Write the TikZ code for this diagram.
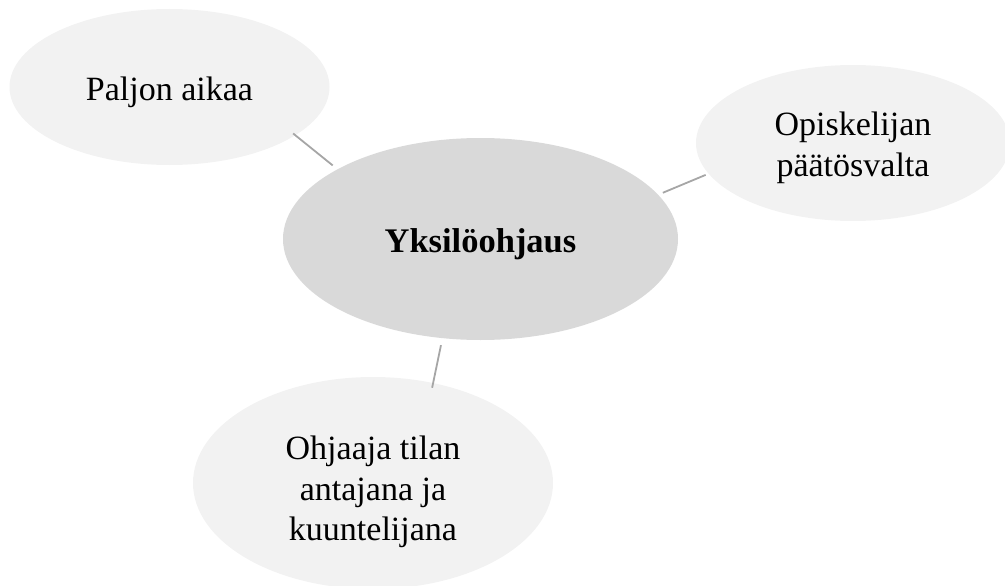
\documentclass[tikz,border=0pt]{standalone}
\usepackage{fontspec}
\setmainfont{Liberation Serif}
\usetikzlibrary{shapes.geometric}
\definecolor{satfill}{HTML}{F2F2F2}
\definecolor{cenfill}{HTML}{D9D9D9}
\definecolor{linkcol}{HTML}{A6A6A6}
\tikzset{
  bubble/.style={ellipse, fill=satfill, inner sep=0pt},
  hub/.style={ellipse, fill=cenfill, inner sep=0pt},
  label/.style={align=center, font=\fontsize{34}{40.5}\selectfont},
  hublabel/.style={align=center, font=\fontsize{34.5}{40}\selectfont\bfseries},
  link/.style={draw=linkcol, line width=1.8pt}
}
\begin{document}
\begin{tikzpicture}[x=1pt,y=-1pt]
\useasboundingbox (0,0) rectangle (1005,586);
\clip (0,0) rectangle (1005,586);
\node[hub, minimum width=395pt, minimum height=202pt] (c) at (480.5,239) {};
\node[hublabel] (ct) at (480.5,244) {Yksilöohjaus};
\node[bubble, minimum width=320pt, minimum height=156pt] (tl) at (169.5,87) {};
\node[bubble, minimum width=314pt, minimum height=156pt] (r) at (853,143) {};
\node[bubble, minimum width=360pt, minimum height=212pt] (b) at (373,483) {};
\node[label] (tlt) at (169.5,92) {Paljon aikaa};
\node[label] (rt) at (853,148) {Opiskelijan\\päätösvalta};
\node[label] (bt) at (373,492) {Ohjaaja tilan\\antajana ja\\kuuntelijana};
\draw[link, shorten <=-3pt, shorten >=6pt] (tl.-21) -- (c.154);
\draw[link, shorten <=5pt, shorten >=3pt] (c.14) -- (r.192);
\draw[link, shorten <=7pt, shorten >=-5pt] (c.249) -- (b.59);
\end{tikzpicture}
\end{document}
